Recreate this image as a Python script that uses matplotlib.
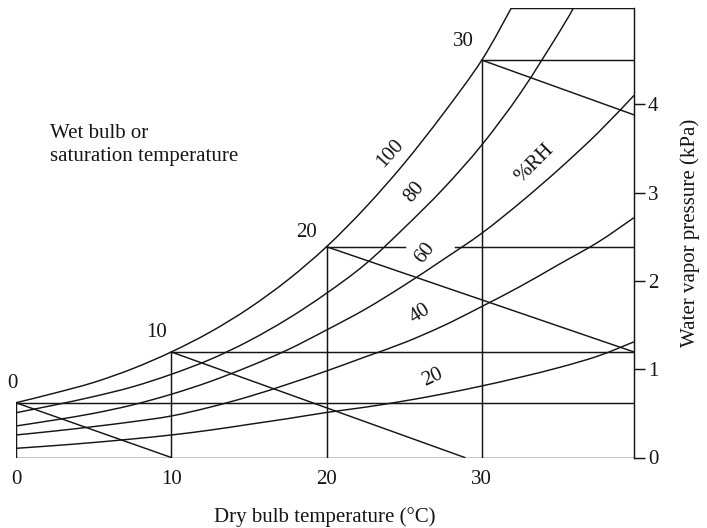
import matplotlib
matplotlib.use("Agg")
import matplotlib.pyplot as plt
from matplotlib.path import Path
from matplotlib.patches import PathPatch

plt.rcParams['font.family'] = ['Liberation Serif', 'DejaVu Serif']

# Chart range
T_MAX = 39.8
P_MAX = 5.09

# Saturation (wet bulb) reference points
sat_t = [0, 10, 20, 30]
sat_p = [0.62, 1.195, 2.387, 4.50]
sat_labels = ["0", "10", "20", "30"]

# Relative humidity curves: dry bulb temperature (°C) and vapour pressure (kPa)
rh100_t = [0, 2.5, 5, 7.5, 10, 12.5, 15, 17.5, 20, 22.5, 25, 27.5, 30, 31.9]
rh100_p = [0.62, 0.73, 0.85, 1.005, 1.195, 1.42, 1.69, 2.01, 2.387, 2.83, 3.33, 3.89, 4.50, 5.09]

rh80_t = [0, 2.5, 5, 7.5, 10, 12.5, 15, 17.5, 20, 22.5, 25, 27.5, 30, 32.5, 35, 35.9]
rh80_p = [0.507, 0.595, 0.69, 0.80, 0.942, 1.11, 1.32, 1.57, 1.86, 2.19, 2.60, 3.04, 3.54, 4.13, 4.82, 5.09]

rh60_t = [0, 2.5, 5, 7.5, 10, 12.5, 15, 17.5, 20, 22.5, 25, 27.5, 30, 32.5, 35, 37.5, 39.8]
rh60_p = [0.357, 0.425, 0.50, 0.595, 0.716, 0.86, 1.03, 1.22, 1.444, 1.68, 1.95, 2.24, 2.54, 2.89, 3.27, 3.68, 4.10]

rh40_t = [0, 2.5, 5, 7.5, 10, 12.5, 15, 17.5, 20, 22.5, 25, 27.5, 30, 32.5, 35, 37.5, 39.8]
rh40_p = [0.255, 0.30, 0.35, 0.405, 0.47, 0.57, 0.69, 0.83, 0.98, 1.14, 1.30, 1.49, 1.71, 1.94, 2.19, 2.44, 2.716]

rh20_t = [0, 2.5, 5, 7.5, 10, 12.5, 15, 17.5, 20, 22.5, 25, 27.5, 30, 32.5, 35, 37.5, 39.8]
rh20_p = [0.104, 0.135, 0.17, 0.21, 0.255, 0.31, 0.375, 0.44, 0.51, 0.57, 0.64, 0.72, 0.81, 0.91, 1.02, 1.15, 1.31]

rh_curves = [(rh100_t, rh100_p), (rh80_t, rh80_p), (rh60_t, rh60_p),
             (rh40_t, rh40_p), (rh20_t, rh20_p)]

# Curve labels: text, position, rotation
rh_labels = ["100", "80", "60", "40", "20", "%RH"]
rh_label_t = [24.08, 25.65, 26.34, 26.01, 26.83, 33.42]
rh_label_p = [3.44, 3.00, 2.31, 1.63, 0.91, 3.33]
rh_label_rot = [48, 50, 52, 32, 25, 45]

# Constant wet-bulb lines: end points (start is the saturation point)
wb_end_t = [10, 28.9, T_MAX, T_MAX]
wb_end_p = [0, 0, 1.195, 3.88]

# Gap in the 20 °C vapour-pressure line around the "60" label
gap_20 = (25.05, 28.27)

x_ticks = [0, 10, 20, 30]
y_ticks = [0, 1, 2, 3, 4]

LC = '#151515'
LW = 1.05
FS = 15


def smooth_path(xs, ys):
    """Cubic Bezier path passing through every given point (Catmull-Rom tangents)."""
    pts = list(zip(xs, ys))
    verts = [pts[0]]
    codes = [Path.MOVETO]
    n = len(pts)
    for i in range(n - 1):
        p0 = pts[i - 1] if i > 0 else pts[i]
        p1 = pts[i]
        p2 = pts[i + 1]
        p3 = pts[i + 2] if i + 2 < n else pts[i + 1]
        c1 = (p1[0] + (p2[0] - p0[0]) / 6, p1[1] + (p2[1] - p0[1]) / 6)
        c2 = (p2[0] - (p3[0] - p1[0]) / 6, p2[1] - (p3[1] - p1[1]) / 6)
        verts += [c1, c2, p2]
        codes += [Path.CURVE4] * 3
    return Path(verts, codes)


fig = plt.figure(figsize=(7.07, 5.28), dpi=100)
ax = fig.add_axes([16 / 707, (528 - 457.5) / 528, (634 - 16) / 707, (457.5 - 8) / 528])
ax.set_xlim(0, T_MAX)
ax.set_ylim(0, P_MAX)

for s in ['top', 'left', 'bottom']:
    ax.spines[s].set_visible(False)
ax.spines['right'].set_linewidth(LW)
ax.spines['right'].set_color(LC)

# Relative humidity curves
for t, p in rh_curves:
    ax.add_patch(PathPatch(smooth_path(t, p), facecolor='none', edgecolor=LC, lw=LW))

# Bottom edge and top edge beyond the saturation curve
ax.plot([0, T_MAX], [0, 0], color=LC, lw=LW)
ax.plot([rh100_t[-1], T_MAX], [P_MAX, P_MAX], color=LC, lw=LW)

# Vertical and horizontal lines through saturation points, and wet-bulb lines
for i, (t, p) in enumerate(zip(sat_t, sat_p)):
    ax.plot([t, t], [0, p], color=LC, lw=LW)
    if t == 20:
        ax.plot([t, gap_20[0]], [p, p], color=LC, lw=LW)
        ax.plot([gap_20[1], T_MAX], [p, p], color=LC, lw=LW)
    else:
        ax.plot([t, T_MAX], [p, p], color=LC, lw=LW)
    ax.plot([t, wb_end_t[i]], [p, wb_end_p[i]], color=LC, lw=LW)

# Saturation temperature labels
sat_label_dt = [-0.26, -0.92, -1.26, -1.22]
sat_label_dp = [0.22, 0.215, 0.163, 0.21]
for t, p, lab, dt, dp in zip(sat_t, sat_p, sat_labels, sat_label_dt, sat_label_dp):
    ax.text(t + dt, p + dp, lab, fontsize=FS, ha='center', va='center',
            color=LC, clip_on=False)

# Curve labels
for lab, t, p, r in zip(rh_labels, rh_label_t, rh_label_p, rh_label_rot):
    ax.text(t, p, lab, fontsize=FS, ha='center', va='center', rotation=r,
            rotation_mode='anchor', color=LC)

ax.text(2.19, 3.54, "Wet bulb or\nsaturation temperature", fontsize=FS,
        ha='left', va='center', color=LC, linespacing=1.25)

# Axes ticks and labels
ax.set_xticks(x_ticks)
ax.set_xticklabels([str(v) for v in x_ticks])
ax.tick_params(axis='x', length=0, pad=9, labelsize=FS, colors=LC)
ax.yaxis.tick_right()
ax.set_yticks(y_ticks)
ax.set_yticklabels([str(v) for v in y_ticks])
ax.tick_params(axis='y', direction='out', length=8, width=LW, pad=2,
               labelsize=FS, colors=LC)
ax.yaxis.set_label_position('right')
ax.set_xlabel("Dry bulb temperature (°C)", fontsize=FS, labelpad=13, color=LC)
ax.set_ylabel("Water vapor pressure (kPa)", fontsize=FS, labelpad=16, color=LC)

fig.savefig("out.png", dpi=100)
